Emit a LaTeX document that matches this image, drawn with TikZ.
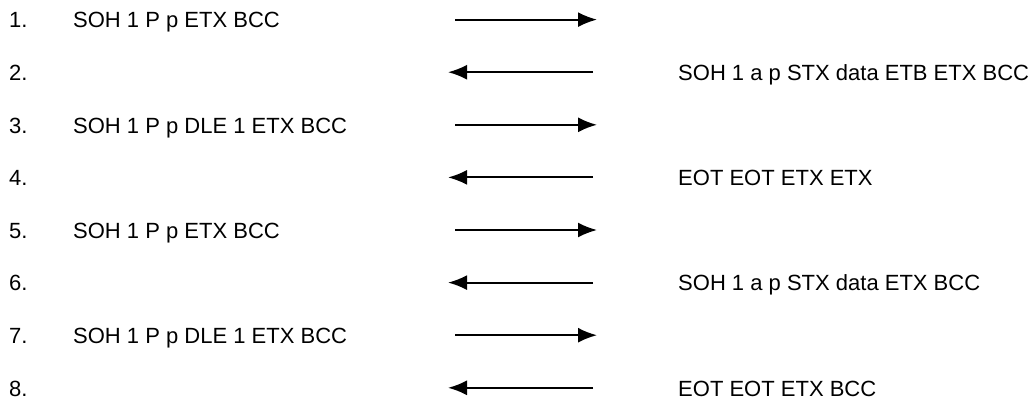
\documentclass[tikz,border=0pt]{standalone}
\usepackage{fontspec}
\setmainfont{Liberation Sans}
\usetikzlibrary{arrows.meta,positioning}
\tikzset{
msg/.style={
  anchor=base west,
  inner sep=0pt,
  font=\fontsize{22}{26}\selectfont
  },
link/.style={
  line width=2pt,
  -{Latex[length=19pt,width=15pt]}
  }
}

\begin{document}
\begin{tikzpicture}[x=1pt,y=-1pt]
            \useasboundingbox (0,0) rectangle (1032,402);
            % step numbers
            \foreach \i in {1,...,8}
                \node[msg] (n\i) at (9,{52.6*\i-24.7}) {\i.};
            % sent by the left station
            \foreach \i/\txt in {1/SOH 1 P p ETX BCC,3/SOH 1 P p DLE 1 ETX BCC,
                                 5/SOH 1 P p ETX BCC,7/SOH 1 P p DLE 1 ETX BCC}
                \node[msg] (l\i) at (73,{52.6*\i-24.7}) {\txt};
            % answered by the right station
            \foreach \i/\txt in {2/SOH 1 a p STX data ETB ETX BCC,4/EOT EOT ETX ETX,
                                 6/SOH 1 a p STX data ETX BCC,8/EOT EOT ETX BCC}
                \node[msg] (r\i) at (678,{52.6*\i-24.7}) {\txt};
            \foreach \i in {1,3,5,7} {
                \coordinate (a\i) at (455,{52.6*\i-33});
                \coordinate (b\i) at (597,{52.6*\i-33});
                \draw[link] (a\i) -- (b\i);
            }
            \foreach \i in {2,4,6,8} {
                \coordinate (a\i) at (593,{52.6*\i-33});
                \coordinate (b\i) at (448,{52.6*\i-33});
                \draw[link] (a\i) -- (b\i);
            }
        \end{tikzpicture}
\end{document}
